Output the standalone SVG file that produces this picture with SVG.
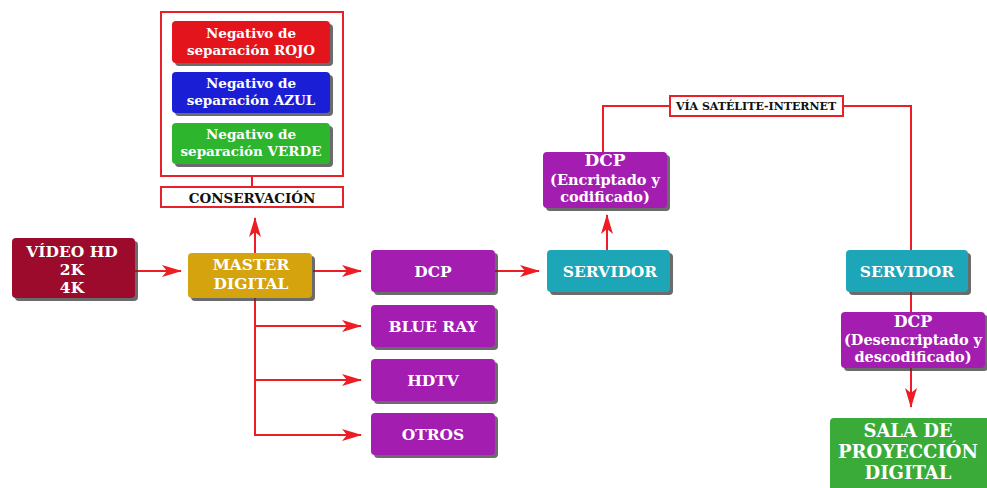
<svg xmlns="http://www.w3.org/2000/svg" width="987" height="488" viewBox="0 0 987 488">
<defs>
<style>
.t{font-family:"DejaVu Serif","Liberation Serif",serif;font-weight:bold;fill:#fff;text-anchor:middle}
.k{font-family:"DejaVu Serif","Liberation Serif",serif;font-weight:bold;fill:#111;text-anchor:middle}
.sh{fill:#3a3a3a;opacity:0.75}
.ln{stroke:#ee1c24;stroke-width:2;fill:none}
.fr{stroke:#e8202a;stroke-width:2;fill:#fff}
</style>
<marker id="ah" viewBox="0 0 20 12" refX="19" refY="6" markerWidth="20" markerHeight="12" markerUnits="userSpaceOnUse" orient="auto">
<path d="M0,0 L20,6 L0,12 L5,6 Z" fill="#ee1c24"/>
</marker>
</defs>
<rect width="987" height="488" fill="#fff"/>

<g id="connectors">
<path class="ln" d="M135,271 H181" marker-end="url(#ah)"/>
<path class="ln" d="M313,271 H361" marker-end="url(#ah)"/>
<path class="ln" d="M495,271 H539" marker-end="url(#ah)"/>
<path class="ln" d="M255,253 V218" marker-end="url(#ah)"/>
<path class="ln" d="M255,298 V435 H361" marker-end="url(#ah)"/>
<path class="ln" d="M255,326 H361" marker-end="url(#ah)"/>
<path class="ln" d="M255,380 H361" marker-end="url(#ah)"/>
<path class="ln" d="M252,176 V187"/>
<path class="ln" d="M607,250 V215" marker-end="url(#ah)"/>
<path class="ln" d="M603,152 V106 H670"/>
<path class="ln" d="M843,106 H911 V250"/>
<path class="ln" d="M911,292 V312"/>
<path class="ln" d="M911,368 V407" marker-end="url(#ah)"/>
</g>

<g id="conservacion-frame">
<rect class="fr" x="161" y="12" width="182" height="164"/>
</g>
<g id="rojo">
<rect class="sh" x="175" y="24" width="158" height="42" rx="4"/>
<rect x="172" y="21" width="158" height="42" rx="4" fill="#e3141c"/>
<text class="t" font-size="13.5"><tspan x="251" y="38">Negativo de</tspan><tspan x="251" y="55">separación ROJO</tspan></text>
</g>
<g id="azul">
<rect class="sh" x="175" y="75" width="158" height="41" rx="4"/>
<rect x="172" y="72" width="158" height="41" rx="4" fill="#1a1fd6"/>
<text class="t" font-size="13.5"><tspan x="251" y="88">Negativo de</tspan><tspan x="251" y="105">separación AZUL</tspan></text>
</g>
<g id="verde">
<rect class="sh" x="175" y="126" width="158" height="41" rx="4"/>
<rect x="172" y="123" width="158" height="41" rx="4" fill="#2eb52e"/>
<text class="t" font-size="13.5"><tspan x="251" y="139">Negativo de</tspan><tspan x="251" y="156">separación VERDE</tspan></text>
</g>
<g id="conservacion">
<rect class="fr" x="161" y="187" width="182" height="20"/>
<text class="k" x="252" y="202.5" font-size="13.5">CONSERVACIÓN</text>
</g>

<g id="video">
<rect class="sh" x="15" y="241" width="123" height="60" rx="4"/>
<rect x="12" y="238" width="123" height="60" rx="4" fill="#9c0b2b"/>
<text class="t" font-size="15.5"><tspan x="72" y="257">VÍDEO HD</tspan><tspan x="72" y="275">2K</tspan><tspan x="72" y="293">4K</tspan></text>
</g>
<g id="master">
<rect class="sh" x="191" y="256" width="124" height="45" rx="4"/>
<rect x="188" y="253" width="124" height="45" rx="4" fill="#d5a30d"/>
<text class="t" font-size="15.5"><tspan x="251" y="270">MASTER</tspan><tspan x="251" y="289">DIGITAL</tspan></text>
</g>

<g id="dcp">
<rect class="sh" x="374" y="253" width="124" height="42" rx="4"/>
<rect x="371" y="250" width="124" height="42" rx="4" fill="#a21db0"/>
<text class="t" x="433" y="277" font-size="15.5">DCP</text>
</g>
<g id="bluray">
<rect class="sh" x="374" y="308" width="124" height="42" rx="4"/>
<rect x="371" y="305" width="124" height="42" rx="4" fill="#a21db0"/>
<text class="t" x="433" y="332" font-size="15.5">BLUE RAY</text>
</g>
<g id="hdtv">
<rect class="sh" x="374" y="362" width="124" height="42" rx="4"/>
<rect x="371" y="359" width="124" height="42" rx="4" fill="#a21db0"/>
<text class="t" x="433" y="386" font-size="15.5">HDTV</text>
</g>
<g id="otros">
<rect class="sh" x="374" y="416" width="124" height="42" rx="4"/>
<rect x="371" y="413" width="124" height="42" rx="4" fill="#a21db0"/>
<text class="t" x="433" y="440" font-size="15.5">OTROS</text>
</g>

<g id="servidor1">
<rect class="sh" x="550" y="253" width="123" height="42" rx="4"/>
<rect x="547" y="250" width="123" height="42" rx="4" fill="#1ca6b7"/>
<text class="t" x="610" y="277" font-size="15.5">SERVIDOR</text>
</g>
<g id="dcp-enc">
<rect class="sh" x="546" y="155" width="124" height="56" rx="4"/>
<rect x="543" y="152" width="124" height="56" rx="4" fill="#a21db0"/>
<text class="t" font-size="14.5"><tspan x="605" y="166" font-size="17">DCP</tspan><tspan x="605" y="185">(Encriptado y</tspan><tspan x="605" y="202">codificado)</tspan></text>
</g>
<g id="via">
<rect class="fr" x="670" y="96" width="173" height="20"/>
<text class="k" x="756" y="110" font-size="11">VÍA SATÉLITE-INTERNET</text>
</g>
<g id="servidor2">
<rect class="sh" x="849" y="253" width="122" height="42" rx="4"/>
<rect x="846" y="250" width="122" height="42" rx="4" fill="#1ca6b7"/>
<text class="t" x="907" y="277" font-size="15.5">SERVIDOR</text>
</g>
<g id="dcp-desenc">
<rect class="sh" x="844" y="315" width="144" height="56" rx="4"/>
<rect x="841" y="312" width="144" height="56" rx="4" fill="#a21db0"/>
<text class="t" font-size="14.5"><tspan x="913" y="327" font-size="16">DCP</tspan><tspan x="913" y="345">(Desencriptado y</tspan><tspan x="913" y="362">descodificado)</tspan></text>
</g>
<g id="sala">
<rect x="830" y="418" width="162" height="80" rx="4" fill="#3aab39"/>
<text class="t" font-size="18"><tspan x="908" y="437">SALA DE</tspan><tspan x="908" y="458">PROYECCIÓN</tspan><tspan x="908" y="479">DIGITAL</tspan></text>
</g>
</svg>
